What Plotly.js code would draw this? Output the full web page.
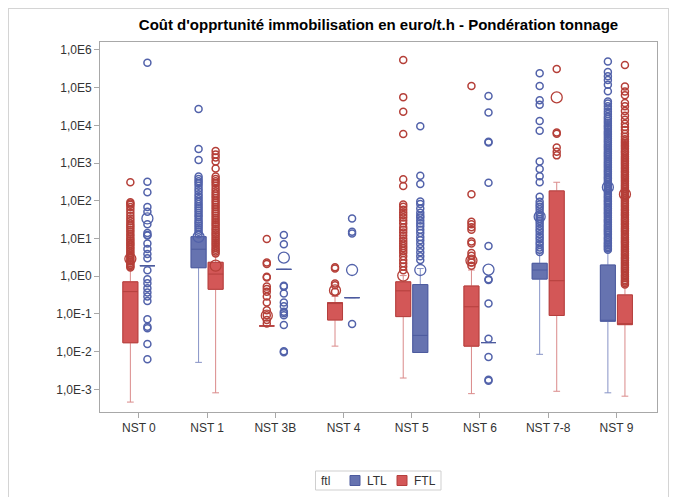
<!DOCTYPE html>
<html><head><meta charset="utf-8">
<script src="https://cdn.plot.ly/plotly-3.0.1.min.js"></script>
<style>
body{margin:0;background:#fff}
#chart{position:absolute;left:0;top:0;width:673px;height:497px}
#frame{position:absolute;left:8px;top:8px;width:659px;height:520px;border:1px solid #d4d4d4;pointer-events:none}
</style>
</head><body><div id="chart"></div><div id="frame"></div>
<script>
// ---- data ----
const categories = ["NST 0","NST 1","NST 3B","NST 4","NST 5","NST 6","NST 7-8","NST 9"];
const yTickVals = [1e-3,1e-2,1e-1,1,10,100,1e3,1e4,1e5,1e6];
const yTickText = ["1,0E-3","1,0E-2","1,0E-1","1,0E0","1,0E1","1,0E2","1,0E3","1,0E4","1,0E5","1,0E6"];
const groupNames = ["LTL", "FTL"];
const legendTitle = "ftl";

// LTL statistics
const ltlQ1     = [1.9, 1.68, 1.52, 0.27, 0.0095, 0.0174, 0.84, 0.064];
const ltlMedian = [1.9, 5.2,  1.52, 0.27, 0.027,  0.0174, 1.46, 0.064];
const ltlQ3     = [1.9, 11.2, 1.52, 0.27, 0.6,    0.0174, 2.2,  1.98];
const ltlLow    = [1.9, 0.0052, 1.52, 0.27, 0.0095, 0.0174, 0.0085, 0.00081];
const ltlHigh   = [1.9, 11.2, 1.52, 0.27, 1.6,    0.0174, 4.1,  4.5];
const ltlMean   = [34, 11, 3.1, 1.46, 1.46, 1.5, 38, 230];

// FTL statistics
const ftlQ1     = [0.0172, 0.45, 0.048, 0.069, 0.085, 0.014, 0.091, 0.052];
const ftlMedian = [0.39,   1.14, 0.048, 0.2,   0.41,  0.155, 0.76,  0.052];
const ftlQ3     = [0.71,   2.34, 0.048, 0.2,   0.71,  0.55,  183,   0.32];
const ftlLow    = [0.00046, 0.00081, 0.048, 0.014, 0.002, 0.00077, 0.00089, 0.00066];
const ftlHigh   = [1.65,   3.5,  0.048, 0.29,  1.04,  1.46,  310,   0.58];
const ftlMean   = [2.9, 1.9, 0.09, 0.42, 1.04, 2.6, 55000, 150];

// outliers
const ltlOutNST0 = [460000, 320, 168, 68, 51, 24, 14, 12.3, 12, 7.4, 5.3, 3.9, 3.0, 1.44, 0.83, 0.65, 0.48, 0.37, 0.29, 0.22, 0.072, 0.046, 0.042, 0.016, 0.0063];
const ftlOutNST0 = [310, 92, 85, 78, 68, 58, 48, 40, 34, 29, 25, 22, 19.5, 17, 15, 13, 11.5, 10, 9, 8, 7.2, 6.5, 5.8, 5.2, 4.6, 4.1, 3.7, 3.3, 3.0, 2.7, 2.45, 2.2, 2.0, 1.85, 1.7];
const ltlOutNST1 = [27000, 2350, 1200, 440, 380, 330, 290, 250, 210, 180, 150, 128, 110, 95, 82, 72, 63, 55, 48, 42, 37, 32, 28, 25, 22, 19.5, 17, 15, 13];
const ftlOutNST1 = [2100, 1700, 1400, 1100, 720, 440, 380, 330, 290, 250, 210, 180, 155, 135, 118, 102, 90, 78, 68, 60, 52, 46, 40, 35, 31, 27, 24, 21, 18.5, 16.5, 14.5, 13, 11.5, 10.2, 9, 8, 7.1, 6.3, 5.6, 5, 4.5, 4];
const ltlOutNST3B = [12.4, 7.0, 0.56, 0.53, 0.35, 0.2, 0.16, 0.115, 0.105, 0.093, 0.051, 0.0102, 0.0097];
const ftlOutNST3B = [9.7, 2.3, 2.1, 0.97, 0.93, 0.53, 0.46, 0.39, 0.29, 0.2, 0.126, 0.093, 0.069, 0.056];
const ltlOutNST4 = [34, 15, 13.5, 0.054];
const ftlOutNST4 = [1.72, 1.6, 0.64, 0.58, 0.39];
const ltlOutNST5 = [9500, 460, 280, 96, 82, 62, 48, 40, 36, 30, 25, 21, 17, 14, 11, 9, 7.2, 5.5, 4.3, 3.4, 2.7];
const ftlOutNST5 = [540000, 56000, 23000, 5900, 370, 245, 80, 69, 58, 49, 42, 36, 30, 25, 20, 17, 14.5, 12, 10, 8.6, 7.4, 6.3, 5.5, 4.7, 4.1, 3.4, 2.7, 2.2, 1.8, 1.45];
const ltlOutNST6 = [60000, 22000, 3700, 3500, 300, 6.3, 0.83, 0.8, 0.19, 0.022, 0.0072, 0.0018, 0.0017];
const ftlOutNST6 = [110000, 150, 28, 24, 20, 17, 8.3, 7.4, 4.1, 3.5, 2.7, 2.3, 1.9];
const ltlOutNST78 = [240000, 110000, 46000, 35000, 13000, 7200, 1100, 700, 450, 310, 128, 95, 80, 70, 60, 50, 43, 38, 33, 29, 25, 21, 18, 15.5, 13, 11, 9.5, 8, 6.8, 5.8, 5, 4.4];
const ftlOutNST78 = [310000, 6500, 6000, 2600, 2000, 1600];
const ltlOutNST9 = [490000, 260000, 200000, 160000, 120000, 80000, 43000, 38000, 32000, 27000, 23000, 20000, 17000, 15000, 13000, 11500, 10000, 9000, 8000, 7000, 6300, 5600, 5000, 4400, 3900, 3500, 3100, 2800, 2500, 2250, 2000, 1800, 1600, 1450, 1300, 1150, 1030, 930, 830, 750, 670, 600, 540, 480, 430, 390, 350, 310, 280, 250, 225, 200, 180, 160, 145, 130, 118, 105, 96, 86, 78, 70, 62, 56, 50, 45, 40, 36, 32, 29, 26, 23, 21, 19, 17, 15.5, 14, 12.5, 11, 10, 9, 8, 7.3, 6.6, 6, 5.5, 5];
const ftlOutNST9 = [400000, 107000, 79000, 63000, 39000, 32000, 24000, 18000, 14000, 11000, 9000, 7500, 6000, 5000, 4300, 3800, 3400, 3000, 2700, 2400, 2100, 1900, 1700, 1500, 1350, 1200, 1080, 970, 870, 780, 700, 620, 560, 500, 445, 400, 355, 320, 285, 255, 230, 205, 185, 165, 147, 132, 118, 105, 95, 85, 76, 68, 61, 55, 49, 44, 40, 35.5, 32, 28.5, 25.5, 23, 20.5, 18.5, 16.5, 15, 13.3, 12, 10.7, 9.6, 8.6, 7.8, 7, 6.2, 5.6, 5, 4.5, 4, 3.6, 3.2, 2.9, 2.6, 2.35, 2.1, 1.9, 1.7, 1.55, 1.4, 1.25, 1.1, 1.0, 0.9, 0.8, 0.73, 0.66, 0.6];
const ltlOutliers = [ltlOutNST0, ltlOutNST1, ltlOutNST3B, ltlOutNST4, ltlOutNST5, ltlOutNST6, ltlOutNST78, ltlOutNST9];
const ftlOutliers = [ftlOutNST0, ftlOutNST1, ftlOutNST3B, ftlOutNST4, ftlOutNST5, ftlOutNST6, ftlOutNST78, ftlOutNST9];

// ---- layout config (positions / styles) ----
const ltlSide = [1, -1, 1, 1, 1, 1, -1, -1]; // +1: LTL right of tick, -1: left
const OFF = 0.125, BW = 0.22;
const idx = categories.map((c, i) => i);
const ltlX = idx.map(i => i + ltlSide[i] * OFF);
const ftlX = idx.map(i => i - ltlSide[i] * OFF);

const C = {
  ltl: {fill: "#6673B0", line: "#4D5B9E", whisk: "#8793C6", pt: "#5262AA"},
  ftl: {fill: "#D35757", line: "#B43F3D", whisk: "#DA8A8A", pt: "#B53F38"}
};
const FONT = "Liberation Sans, Arial, sans-serif";

function boxTraces(x, q1, med, q3, lo, hi, col) {
  const full = {type: "box", x: x, q1: q1, median: med, q3: q3, lowerfence: lo, upperfence: hi,
    width: BW, whiskerwidth: 0.45, boxpoints: false, fillcolor: col.fill,
    line: {color: col.whisk, width: 1}, showlegend: false, hoverinfo: "skip"};
  const body = {type: "box", x: x, q1: q1, median: med, q3: q3, lowerfence: q1, upperfence: q3,
    width: BW, whiskerwidth: 0, boxpoints: false, fillcolor: col.fill,
    line: {color: col.line, width: 1}, showlegend: false, hoverinfo: "skip"};
  return [full, body];
}
function outlierTrace(xs, lists, col) {
  const px = [], py = [];
  lists.forEach((arr, i) => arr.forEach(v => { px.push(xs[i]); py.push(v); }));
  return {type: "scatter", mode: "markers", x: px, y: py, showlegend: false, hoverinfo: "skip",
    marker: {symbol: "circle-open", size: 7, color: col.pt, line: {width: 1.5, color: col.pt}}};
}
function meanTrace(xs, means, col) {
  return {type: "scatter", mode: "markers", x: xs, y: means, showlegend: false, hoverinfo: "skip",
    marker: {symbol: "circle-open", size: 11, color: col.pt, line: {width: 1.3, color: col.pt}}};
}

const traces = [
  ...boxTraces(ltlX, ltlQ1, ltlMedian, ltlQ3, ltlLow, ltlHigh, C.ltl),
  ...boxTraces(ftlX, ftlQ1, ftlMedian, ftlQ3, ftlLow, ftlHigh, C.ftl),
  outlierTrace(ltlX, ltlOutliers, C.ltl),
  outlierTrace(ftlX, ftlOutliers, C.ftl),
  meanTrace(ltlX, ltlMean, C.ltl),
  meanTrace(ftlX, ftlMean, C.ftl)
];

// plot area in pixels: x 100..657, y 42..412
const PL = 100, PR = 657, PT = 42, PB = 412;
const px2x = p => (p - PL) / (PR - PL);
const px2y = p => (PB - p) / (PB - PT);

// manual legend (SAS style)
const legY = 480.5;
const shapes = [
  {type: "rect", xref: "paper", yref: "paper", x0: px2x(315.5), x1: px2x(441), y0: px2y(471), y1: px2y(490),
   line: {color: "#cfcfcf", width: 1}, fillcolor: "rgba(0,0,0,0)"},
  {type: "rect", xref: "paper", yref: "paper", x0: px2x(350), x1: px2x(360), y0: px2y(legY + 5), y1: px2y(legY - 5),
   line: {color: C.ltl.line, width: 1}, fillcolor: C.ltl.fill},
  {type: "rect", xref: "paper", yref: "paper", x0: px2x(397), x1: px2x(407), y0: px2y(legY + 5), y1: px2y(legY - 5),
   line: {color: C.ftl.line, width: 1}, fillcolor: C.ftl.fill}
];
const annotations = [
  {text: legendTitle, xref: "paper", yref: "paper", x: px2x(319), y: px2y(legY), xanchor: "left", yanchor: "middle",
   showarrow: false, font: {family: FONT, size: 12, color: "#333"}},
  {text: groupNames[0], xref: "paper", yref: "paper", x: px2x(365), y: px2y(legY), xanchor: "left", yanchor: "middle",
   showarrow: false, font: {family: FONT, size: 12, color: "#333"}},
  {text: groupNames[1], xref: "paper", yref: "paper", x: px2x(412), y: px2y(legY), xanchor: "left", yanchor: "middle",
   showarrow: false, font: {family: FONT, size: 12, color: "#333"}}
];

const axisCommon = {showgrid: false, zeroline: false, showline: true, linecolor: "#a8a8a8", linewidth: 1,
  mirror: true, ticks: "outside", ticklen: 5, tickcolor: "#a8a8a8",
  tickfont: {family: FONT, size: 12, color: "#333"}};

const layout = {
  width: 673, height: 497,
  margin: {l: PL, r: 673 - PR, t: PT, b: 497 - PB},
  paper_bgcolor: "#fff", plot_bgcolor: "#fff",
  font: {family: FONT, color: "#333"},
  title: {text: "Coût d'opprtunité immobilisation en euro/t.h - Pondération tonnage",
    font: {family: FONT, size: 15, color: "#000", weight: "bold"},
    xref: "paper", x: 0.5, xanchor: "center", yref: "container", y: 0.95, yanchor: "middle"},
  xaxis: Object.assign({}, axisCommon, {range: [-0.57, 7.595], tickvals: idx, ticktext: categories}),
  yaxis: Object.assign({}, axisCommon, {type: "log", range: [-3.60, 6.21], tickvals: yTickVals, ticktext: yTickText}),
  boxmode: "overlay",
  showlegend: false,
  shapes: shapes,
  annotations: annotations
};

Plotly.newPlot("chart", traces, layout, {displayModeBar: false, staticPlot: true});
</script>
</body></html>
